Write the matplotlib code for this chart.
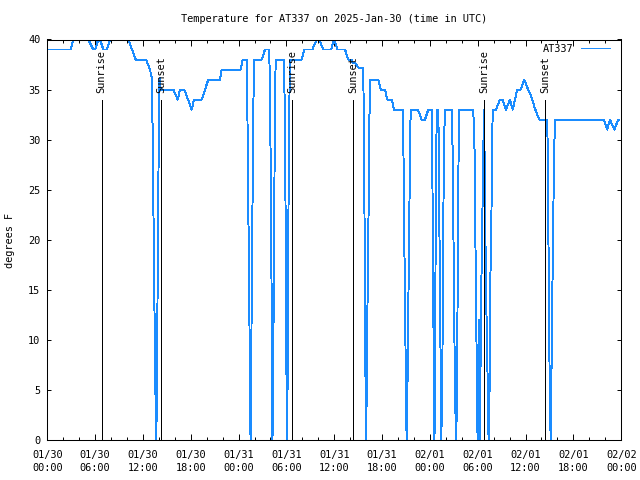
import matplotlib
matplotlib.use('Agg')
import matplotlib.pyplot as plt
import matplotlib.dates as mdates
import pandas as pd

START = pd.Timestamp('2025-01-30 00:00')
END = pd.Timestamp('2025-02-02 00:00')

# readings: hours after 01/30 00:00 UTC and temperature (F)
hours = [
    0.2, 2.94, 3.26, 5.14, 5.77, 5.99, 6.40, 6.61, 7.03, 7.45, 7.87, 10.16, 11.09, 12.38, 12.88, 13.1,
    13.2, 13.32, 13.45, 13.57, 13.68, 13.75, 13.87, 13.98, 14.08, 14.23, 15.81, 16.36, 16.65, 17.19,
    18.12, 18.40, 19.37, 20.20, 21.67, 21.88, 24.26, 24.51, 25.0,
    25.1, 25.2, 25.32, 25.42, 25.5, 25.57, 25.66, 25.75, 25.85, 25.93, 26.9, 27.31, 27.85,
    27.97, 28.1, 28.2, 28.25, 28.33, 28.45, 28.55, 28.65, 29.7,
    29.82, 29.93, 30.0, 30.05, 30.13, 30.22, 30.32, 30.45, 31.92, 32.24, 33.25, 33.8, 34.09, 34.63,
    35.6, 35.97, 36.4, 37.35, 37.76, 38.19, 38.3, 38.6, 39.0, 39.64,
    39.72, 39.83, 39.92, 40.0, 40.07, 40.17, 40.3, 40.42, 40.52, 41.53, 41.83, 42.37, 42.65, 43.21,
    43.5, 44.59,
    44.68, 44.78, 44.9, 45.0, 45.08, 45.17, 45.28, 45.4, 45.5, 45.59, 46.5, 46.97, 47.38, 47.8, 48.22,
    48.3, 48.4, 48.5, 48.57, 48.65, 48.72, 48.8, 48.87, 49.05,
    49.12, 49.2, 49.3, 49.37, 49.43, 49.55, 49.65, 49.75, 49.89, 50.73,
    50.85, 51.0, 51.15, 51.31, 51.4, 51.5, 51.6, 51.69, 53.44,
    53.6, 53.75, 53.9, 53.98, 54.08, 54.2, 54.28, 54.4, 54.55, 54.7, 54.78, 54.85, 54.95, 55.1,
    55.25, 55.36, 55.5, 55.6, 55.7, 55.8, 55.88, 56.29, 56.79, 57.13, 57.55, 58.05, 58.39, 58.67,
    58.96, 59.39, 59.84, 60.22, 60.77, 61.18, 61.72, 62.73,
    62.8, 62.92, 63.03, 63.15, 63.22, 63.32, 63.44, 63.57, 63.69, 69.84, 70.25, 70.59, 71.13,
    71.63, 71.72,
]
temps = [
    39, 39, 40, 40, 39, 39, 40, 40, 39, 39, 40, 40, 38, 38, 37, 36.2,
    31.6, 22.5, 12.7, 4.7, 0, 6, 18, 30, 36.2, 35, 35, 34, 35, 35,
    33, 34, 34, 36, 36, 37, 37, 38, 38,
    33.3, 23.8, 17, 4.7, 0, 4.7, 17, 24, 33, 38, 38, 39, 39,
    32.5, 19.5, 6.3, 0, 6, 19.5, 32.5, 38, 38,
    31, 18.5, 6.3, 0, 4, 18, 31, 38, 38, 39, 39, 40, 40, 39,
    39, 40, 39, 39, 38, 38, 37.7, 37.7, 37.2, 37.2,
    30.8, 18.5, 6.2, 0, 4.8, 13.5, 22.5, 32.5, 36, 36, 35, 35, 34, 34,
    33, 33,
    29, 20.5, 12.5, 4.2, 0, 4.2, 12.5, 20.5, 29, 33, 33, 32, 32, 33, 33,
    27.8, 16.7, 5.7, 0, 5.7, 20.8, 29, 33, 33,
    29, 20.5, 12.5, 4.3, 0, 5.7, 16.7, 29, 33, 33,
    29, 16.7, 4.3, 0, 5.7, 16.7, 29, 33, 33,
    29, 16.7, 5.7, 0, 8, 12, 0, 12.5, 20.8, 29, 33, 29, 20.8, 12.5,
    5.7, 0, 5.7, 16.7, 20.8, 29, 33, 33, 34, 34, 33, 34, 33, 34,
    35, 35, 36, 35.2, 34.2, 33.1, 32, 32,
    26.8, 16, 5.3, 0, 4.2, 12, 20, 28, 32, 32, 31, 32, 31,
    32, 32,
]

sunrise = ['2025-01-30 06:49', '2025-01-31 06:44', '2025-02-01 06:47']
sunset = ['2025-01-30 14:18', '2025-01-31 14:23', '2025-02-01 14:29']
sun_top = 34

station = 'AT337'
blue = '#1a8cff'

plt.rcParams['font.family'] = ['DejaVu Sans Mono']
plt.rcParams['font.size'] = 7.4

fig = plt.figure(figsize=(6.4, 4.8), dpi=100)
ax = fig.add_axes([47.3 / 640, 40 / 480, 573.9 / 640, 400.5 / 480])

times = START + pd.to_timedelta(hours, unit='h')
ax.plot(times, temps, color=blue, lw=0.7, antialiased=False, label=station, zorder=2)

# sunrise / sunset markers
for label, stamps in (('Sunrise', sunrise), ('Sunset', sunset)):
    for s in stamps:
        t = pd.Timestamp(s)
        ax.plot([t, t], [0, sun_top], color='black', lw=0.7, antialiased=False, zorder=3)
        ax.text(t, sun_top + 0.7, label, rotation=90, ha='center', va='bottom', zorder=4)

ax.set_xlim(START, END)
ax.set_ylim(0, 40)
ax.set_yticks(range(0, 41, 5))

ax.xaxis.set_major_locator(mdates.HourLocator(byhour=range(0, 24, 6)))
ax.xaxis.set_minor_locator(mdates.HourLocator(byhour=range(0, 24, 2)))
ax.xaxis.set_major_formatter(mdates.DateFormatter('%m/%d\n%H:%M'))

ax.tick_params(axis='x', which='major', direction='in', length=4.3, width=0.7, top=True, pad=7)
ax.tick_params(axis='x', which='minor', direction='in', length=2.2, width=0.7, top=True)
ax.tick_params(axis='y', which='major', direction='in', length=3.2, width=0.7, right=True, pad=5)
for sp in ax.spines.values():
    sp.set_linewidth(0.75)
    sp.set_zorder(5)

leg = ax.legend(loc='upper right', bbox_to_anchor=(0.9805, 0.989), frameon=False,
                markerfirst=False, handlelength=2.83, handletextpad=0.77,
                borderpad=0, borderaxespad=0)

fig.text(334 / 640, 1 - 19 / 480, 'Temperature for AT337 on 2025-Jan-30 (time in UTC)',
         ha='center', va='center')
fig.text(10 / 640, 0.5, 'degrees F', rotation=90, ha='center', va='center')

fig.canvas.draw()
plt.setp(ax.get_xticklabels(), linespacing=1.35)

fig.savefig('out.png', dpi=100)
